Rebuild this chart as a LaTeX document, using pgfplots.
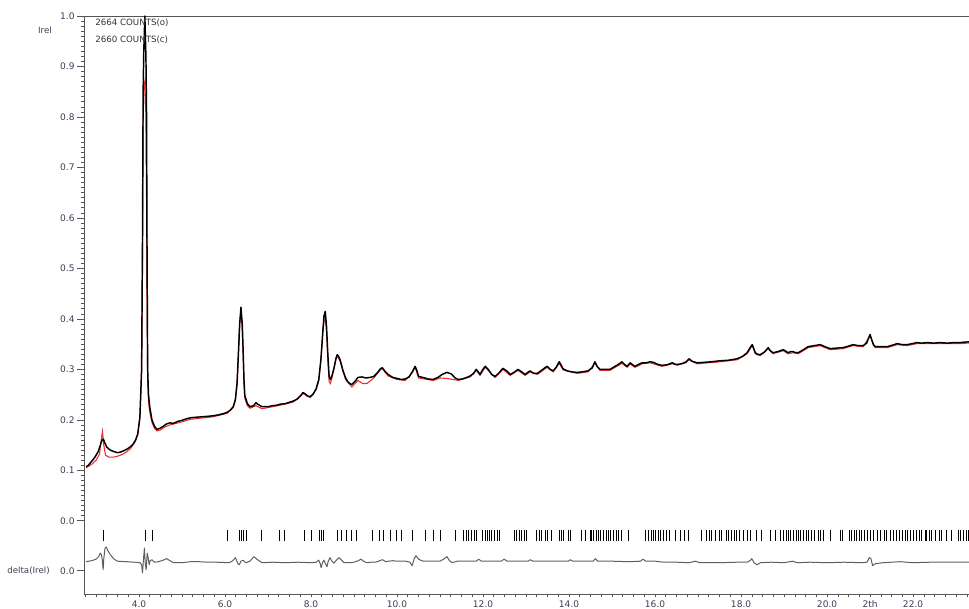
\documentclass[border=0pt]{standalone}
\usepackage{fontspec}
\setmainfont{DejaVu Sans}
\usepackage{pgfplots}
\pgfplotsset{compat=1.18}
\definecolor{txt}{RGB}{60,60,85}
\definecolor{frm}{RGB}{85,85,85}
\definecolor{calc}{RGB}{235,45,45}
\definecolor{dgray}{RGB}{95,95,95}
\begin{document}
\begin{tikzpicture}
\useasboundingbox (0pt,0pt) rectangle (726.75pt,456pt);
\begin{axis}[
  at={(63pt,10.5pt)}, anchor=south west,
  scale only axis, width=668.25pt, height=433.5pt,
  xmin=2.72, xmax=23.44, ymin=-0.145, ymax=1.0,
  axis line style={frm, line width=0.6pt},
  tick pos=left, tick align=outside,
  major tick length=5pt, minor tick length=2.3pt,
  tick style={frm, line width=0.5pt},
  xtick style={/pgfplots/major tick length=2.4pt, /pgfplots/minor tick length=2pt},
  xtick={4,6,...,22},
  minor xtick={2.75,3,...,23.25},
  ytick={0,0.1,...,1.0},
  minor ytick={0,0.01,...,1},
  extra y ticks={-0.099}, extra y tick labels={0.0},
  extra x ticks={21}, extra x tick labels={2th},
  /pgf/number format/.cd, fixed, fixed zerofill, precision=1, assume math mode=true,
  /pgfplots/.cd,
  ticklabel style={font=\fontsize{6.8}{7.5}\selectfont, text=txt},
  xticklabel style={yshift=3pt, inner sep=0pt, text height=0.76em, text depth=0pt},
  yticklabel style={xshift=1.5pt},
  clip=true,
]
% calculated (red)
\addplot[calc, line width=0.8pt] coordinates {
(2.77,0.105)(2.90,0.112)(3.00,0.120)(3.08,0.132)(3.12,0.160)(3.15,0.177)(3.18,0.150)(3.22,0.130)
(3.30,0.126)(3.40,0.126)(3.50,0.128)(3.60,0.131)(3.70,0.136)(3.80,0.143)(3.90,0.155)(3.97,0.172)
(4.02,0.205)(4.06,0.30)(4.08,0.52)(4.095,0.78)(4.11,0.86)(4.135,0.87)(4.16,0.80)(4.175,0.63)
(4.185,0.45)(4.20,0.28)(4.22,0.235)(4.25,0.215)(4.30,0.195)(4.36,0.183)(4.42,0.178)(4.50,0.180)
(4.60,0.186)(4.72,0.190)(5.00,0.196)(5.19,0.201)(5.50,0.204)(5.72,0.206)(6.05,0.213)(6.19,0.224)
(6.24,0.238)(6.28,0.270)(6.31,0.33)(6.34,0.39)(6.37,0.415)(6.40,0.38)(6.42,0.33)(6.44,0.27)
(6.46,0.242)(6.52,0.228)(6.58,0.223)(6.72,0.228)(6.86,0.222)(7.28,0.229)(7.58,0.235)(7.81,0.252)
(7.98,0.244)(8.12,0.260)(8.18,0.278)(8.23,0.320)(8.27,0.37)(8.30,0.395)(8.33,0.400)(8.36,0.375)
(8.39,0.32)(8.42,0.276)(8.45,0.272)(8.49,0.285)(8.58,0.320)(8.61,0.327)(8.68,0.315)(8.80,0.280)
(8.95,0.265)(9.09,0.278)(9.20,0.272)(9.30,0.272)(9.46,0.283)(9.62,0.300)(9.66,0.301)(9.79,0.287)
(10.00,0.280)(10.19,0.278)(10.36,0.294)(10.42,0.304)(10.50,0.283)(10.84,0.278)(11.00,0.283)
(11.16,0.282)(11.30,0.280)(11.42,0.278)(11.70,0.285)(11.84,0.298)(11.93,0.288)(12.05,0.304)
(12.28,0.284)(12.46,0.300)(12.63,0.288)(12.81,0.298)(12.98,0.288)(13.09,0.295)(13.26,0.290)
(13.49,0.304)(13.63,0.295)(13.77,0.312)(13.86,0.299)(14.19,0.292)(14.44,0.295)(14.60,0.312)
(14.72,0.298)(14.95,0.298)(15.23,0.312)(15.35,0.304)(15.42,0.311)(15.53,0.304)(15.70,0.311)
(15.88,0.313)(16.16,0.306)(16.40,0.311)(16.53,0.308)(16.79,0.319)(16.98,0.311)(17.51,0.315)
(17.91,0.319)(18.14,0.331)(18.26,0.347)(18.33,0.331)(18.44,0.327)(18.63,0.341)(18.74,0.331)
(18.98,0.337)(19.09,0.331)(19.21,0.333)(19.33,0.331)(19.56,0.343)(19.84,0.347)(20.07,0.339)
(20.37,0.341)(20.60,0.347)(20.84,0.345)(21.00,0.366)(21.12,0.343)(21.40,0.343)(21.63,0.349)
(21.86,0.347)(22.09,0.351)(22.33,0.351)(22.63,0.351)(23.09,0.351)(23.44,0.353)
};
% observed (black)
\addplot[black, line width=1.1pt, line join=round] coordinates {
(2.77,0.107)(2.82,0.110)(2.86,0.114)(2.92,0.120)(2.98,0.127)(3.05,0.137)(3.10,0.150)(3.14,0.160)
(3.17,0.162)(3.20,0.155)(3.25,0.146)(3.33,0.140)(3.42,0.137)(3.50,0.135)(3.56,0.136)(3.65,0.139)
(3.72,0.142)(3.79,0.146)(3.86,0.152)(3.92,0.160)(3.97,0.172)(4.02,0.205)(4.06,0.30)(4.08,0.55)
(4.095,0.85)(4.11,0.93)(4.135,1.00)(4.16,0.92)(4.175,0.80)(4.185,0.55)(4.20,0.30)(4.22,0.25)
(4.25,0.225)(4.30,0.200)(4.36,0.187)(4.42,0.181)(4.48,0.183)(4.56,0.187)(4.64,0.192)(4.72,0.194)
(4.80,0.193)(4.90,0.197)(5.00,0.199)(5.10,0.202)(5.19,0.204)(5.30,0.205)(5.45,0.206)(5.60,0.207)
(5.72,0.208)(5.85,0.210)(5.95,0.212)(6.05,0.215)(6.12,0.219)(6.19,0.226)(6.24,0.240)(6.28,0.274)
(6.31,0.33)(6.34,0.39)(6.37,0.423)(6.40,0.39)(6.42,0.34)(6.44,0.28)(6.46,0.248)(6.52,0.232)
(6.58,0.226)(6.66,0.228)(6.72,0.234)(6.76,0.231)(6.86,0.226)(7.00,0.226)(7.10,0.228)(7.20,0.229)
(7.28,0.231)(7.40,0.232)(7.50,0.235)(7.58,0.237)(7.68,0.241)(7.76,0.248)(7.81,0.254)(7.86,0.252)
(7.92,0.247)(7.98,0.246)(8.05,0.251)(8.12,0.262)(8.18,0.280)(8.23,0.320)(8.27,0.37)(8.30,0.405)
(8.33,0.415)(8.36,0.385)(8.39,0.33)(8.42,0.286)(8.45,0.280)(8.49,0.288)(8.54,0.305)(8.58,0.322)
(8.61,0.329)(8.64,0.326)(8.68,0.318)(8.74,0.298)(8.80,0.284)(8.85,0.276)(8.90,0.272)(8.95,0.270)
(9.02,0.276)(9.09,0.284)(9.18,0.285)(9.28,0.283)(9.37,0.284)(9.46,0.286)(9.55,0.294)(9.62,0.302)
(9.66,0.303)(9.72,0.296)(9.79,0.290)(9.90,0.284)(10.00,0.282)(10.10,0.280)(10.19,0.281)(10.28,0.285)
(10.36,0.296)(10.42,0.306)(10.46,0.298)(10.50,0.286)(10.60,0.284)(10.72,0.281)(10.84,0.280)
(10.95,0.284)(11.05,0.290)(11.16,0.294)(11.26,0.291)(11.35,0.283)(11.42,0.280)(11.52,0.281)
(11.62,0.284)(11.70,0.287)(11.78,0.292)(11.84,0.300)(11.88,0.296)(11.93,0.290)(11.98,0.298)
(12.05,0.306)(12.12,0.300)(12.20,0.290)(12.28,0.286)(12.36,0.292)(12.46,0.302)(12.55,0.297)
(12.63,0.290)(12.72,0.294)(12.81,0.300)(12.90,0.295)(12.98,0.290)(13.04,0.294)(13.09,0.297)
(13.18,0.292)(13.26,0.292)(13.36,0.298)(13.45,0.304)(13.49,0.306)(13.56,0.300)(13.63,0.297)
(13.70,0.304)(13.77,0.315)(13.82,0.308)(13.86,0.301)(13.96,0.297)(14.06,0.295)(14.19,0.294)
(14.30,0.295)(14.44,0.297)(14.54,0.303)(14.60,0.315)(14.66,0.305)(14.72,0.300)(14.82,0.300)
(14.95,0.300)(15.05,0.305)(15.15,0.310)(15.23,0.315)(15.30,0.309)(15.35,0.306)(15.42,0.313)
(15.48,0.309)(15.53,0.306)(15.62,0.310)(15.70,0.313)(15.80,0.313)(15.88,0.315)(15.96,0.314)
(16.06,0.310)(16.16,0.308)(16.28,0.309)(16.40,0.313)(16.47,0.310)(16.53,0.310)(16.62,0.311)
(16.72,0.314)(16.79,0.321)(16.86,0.316)(16.98,0.313)(17.15,0.314)(17.30,0.315)(17.51,0.317)
(17.70,0.318)(17.91,0.321)(18.04,0.326)(18.14,0.333)(18.21,0.343)(18.26,0.349)(18.30,0.340)
(18.33,0.333)(18.38,0.330)(18.44,0.329)(18.54,0.334)(18.63,0.343)(18.68,0.337)(18.74,0.333)
(18.85,0.335)(18.98,0.339)(19.04,0.336)(19.09,0.333)(19.15,0.335)(19.21,0.335)(19.27,0.333)
(19.33,0.333)(19.45,0.339)(19.56,0.345)(19.70,0.347)(19.84,0.349)(19.95,0.345)(20.07,0.341)
(20.20,0.342)(20.37,0.343)(20.50,0.346)(20.60,0.349)(20.72,0.347)(20.84,0.347)(20.92,0.352)
(20.97,0.363)(21.00,0.369)(21.04,0.358)(21.08,0.348)(21.12,0.345)(21.25,0.345)(21.40,0.345)
(21.52,0.348)(21.63,0.351)(21.75,0.349)(21.86,0.349)(21.98,0.351)(22.09,0.353)(22.20,0.352)
(22.33,0.353)(22.48,0.352)(22.63,0.353)(22.80,0.352)(22.95,0.353)(23.09,0.353)(23.20,0.354)
(23.44,0.355)
};
% reflection positions
\addplot[draw=none, mark=none, error bars/.cd, y dir=both, y fixed=0.011, error mark=none,
  error bar style={draw=black, line width=0.6pt}] coordinates {
(3.162,-0.029)(4.139,-0.029)(4.302,-0.029)(6.046,-0.029)(6.325,-0.029)(6.371,-0.029)(6.418,-0.029)
(6.488,-0.029)(6.836,-0.029)(7.255,-0.029)(7.371,-0.029)(7.836,-0.029)(8.000,-0.029)(8.185,-0.029)
(8.232,-0.029)(8.278,-0.029)(8.604,-0.029)(8.697,-0.029)(8.813,-0.029)(8.930,-0.029)(9.046,-0.029)
(9.418,-0.029)(9.600,-0.029)(9.680,-0.029)(9.837,-0.029)(9.976,-0.029)(10.109,-0.029)(10.365,-0.029)
(10.651,-0.029)(10.844,-0.029)(11.016,-0.029)(11.348,-0.029)(11.541,-0.029)(11.604,-0.029)
(11.658,-0.029)(11.737,-0.029)(11.790,-0.029)(11.853,-0.029)(11.993,-0.029)(12.046,-0.029)
(12.100,-0.029)(12.146,-0.029)(12.202,-0.029)(12.255,-0.029)(12.332,-0.029)(12.379,-0.029)
(12.720,-0.029)(12.783,-0.029)(12.844,-0.029)(12.900,-0.029)(12.960,-0.029)(13.016,-0.029)
(13.248,-0.029)(13.309,-0.029)(13.365,-0.029)(13.441,-0.029)(13.504,-0.029)(13.597,-0.029)
(13.774,-0.029)(13.830,-0.029)(13.867,-0.029)(13.983,-0.029)(14.023,-0.029)(14.295,-0.029)
(14.372,-0.029)(14.488,-0.029)(14.527,-0.029)(14.565,-0.029)(14.627,-0.029)(14.681,-0.029)
(14.737,-0.029)(14.797,-0.029)(14.860,-0.029)(14.914,-0.029)(14.969,-0.029)(15.030,-0.029)
(15.093,-0.029)(15.146,-0.029)(15.225,-0.029)(15.379,-0.029)(15.767,-0.029)(15.844,-0.029)
(15.907,-0.029)(15.960,-0.029)(16.016,-0.029)(16.076,-0.029)(16.132,-0.029)(16.193,-0.029)
(16.272,-0.029)(16.332,-0.029)(16.465,-0.029)(16.597,-0.029)(16.674,-0.029)(16.774,-0.029)
(17.086,-0.029)(17.202,-0.029)(17.262,-0.029)(17.318,-0.029)(17.395,-0.029)(17.495,-0.029)
(17.551,-0.029)(17.651,-0.029)(17.704,-0.029)(17.783,-0.029)(17.837,-0.029)(17.900,-0.029)
(17.960,-0.029)(18.053,-0.029)(18.146,-0.029)(18.209,-0.029)(18.365,-0.029)(18.479,-0.029)
(18.674,-0.029)(18.790,-0.029)(18.923,-0.029)(18.983,-0.029)(19.046,-0.029)(19.100,-0.029)
(19.155,-0.029)(19.216,-0.029)(19.279,-0.029)(19.332,-0.029)(19.388,-0.029)(19.448,-0.029)
(19.527,-0.029)(19.565,-0.029)(19.644,-0.029)(19.697,-0.029)(19.797,-0.029)(19.853,-0.029)
(19.914,-0.029)(20.069,-0.029)(20.302,-0.029)(20.365,-0.029)(20.518,-0.029)(20.574,-0.029)
(20.627,-0.029)(20.690,-0.029)(20.751,-0.029)(20.807,-0.029)(20.860,-0.029)(20.937,-0.029)
(21.000,-0.029)(21.076,-0.029)(21.169,-0.029)(21.248,-0.029)(21.325,-0.029)(21.388,-0.029)
(21.481,-0.029)(21.541,-0.029)(21.620,-0.029)(21.681,-0.029)(21.760,-0.029)(21.814,-0.029)
(21.867,-0.029)(21.930,-0.029)(22.007,-0.029)(22.069,-0.029)(22.146,-0.029)(22.202,-0.029)
(22.279,-0.029)(22.318,-0.029)(22.379,-0.029)(22.434,-0.029)(22.511,-0.029)(22.611,-0.029)
(22.667,-0.029)(22.783,-0.029)(22.900,-0.029)(23.053,-0.029)(23.109,-0.029)(23.169,-0.029)
(23.232,-0.029)(23.286,-0.029)
};
% difference curve
\addplot[dgray, line width=0.75pt, line join=round] coordinates {
(2.77,-0.081)(2.90,-0.079)(3.00,-0.076)(3.06,-0.071)(3.10,-0.064)(3.13,-0.068)(3.15,-0.082)
(3.165,-0.097)(3.18,-0.075)(3.21,-0.054)(3.24,-0.052)(3.28,-0.060)(3.34,-0.068)(3.42,-0.076)
(3.50,-0.080)(3.70,-0.081)(3.90,-0.082)(4.02,-0.083)(4.06,-0.087)(4.08,-0.103)(4.10,-0.080)
(4.125,-0.054)(4.145,-0.085)(4.165,-0.097)(4.19,-0.064)(4.21,-0.072)(4.235,-0.087)(4.26,-0.079)
(4.30,-0.077)(4.36,-0.082)(4.45,-0.081)(4.56,-0.078)(4.64,-0.075)(4.72,-0.079)(4.80,-0.083)
(5.00,-0.083)(5.20,-0.081)(5.40,-0.081)(5.60,-0.082)(5.80,-0.082)(6.10,-0.083)(6.18,-0.079)
(6.24,-0.073)(6.30,-0.085)(6.33,-0.087)(6.37,-0.080)(6.42,-0.078)(6.48,-0.083)(6.58,-0.080)
(6.67,-0.071)(6.74,-0.076)(6.86,-0.083)(7.10,-0.082)(7.40,-0.083)(7.70,-0.082)(8.00,-0.083)
(8.12,-0.082)(8.18,-0.078)(8.21,-0.084)(8.235,-0.093)(8.27,-0.082)(8.30,-0.078)(8.34,-0.086)
(8.37,-0.091)(8.40,-0.080)(8.44,-0.073)(8.48,-0.079)(8.53,-0.084)(8.59,-0.078)(8.65,-0.073)
(8.71,-0.078)(8.77,-0.083)(8.90,-0.083)(9.00,-0.082)(9.10,-0.079)(9.16,-0.076)(9.22,-0.080)
(9.30,-0.083)(9.40,-0.082)(9.50,-0.082)(9.60,-0.079)(9.66,-0.077)(9.74,-0.081)(9.80,-0.080)
(9.90,-0.079)(10.00,-0.080)(10.20,-0.080)(10.30,-0.082)(10.35,-0.089)(10.40,-0.075)(10.44,-0.069)
(10.50,-0.076)(10.60,-0.080)(10.80,-0.080)(11.00,-0.080)(11.10,-0.075)(11.16,-0.071)(11.22,-0.079)
(11.28,-0.083)(11.40,-0.080)(11.60,-0.080)(11.84,-0.080)(11.90,-0.076)(11.96,-0.080)(12.20,-0.080)
(12.42,-0.080)(12.49,-0.076)(12.56,-0.080)(12.80,-0.080)(13.05,-0.080)(13.10,-0.077)(13.16,-0.080)
(13.50,-0.080)(13.98,-0.080)(14.03,-0.077)(14.08,-0.080)(14.40,-0.080)(14.56,-0.080)(14.61,-0.075)
(14.67,-0.080)(15.00,-0.080)(15.40,-0.081)(15.66,-0.080)(15.72,-0.076)(15.78,-0.080)(16.00,-0.080)
(16.20,-0.082)(16.50,-0.082)(16.80,-0.083)(16.93,-0.080)(17.05,-0.083)(17.50,-0.083)(17.90,-0.082)
(18.15,-0.082)(18.22,-0.078)(18.25,-0.075)(18.30,-0.083)(18.37,-0.087)(18.45,-0.083)(18.70,-0.082)
(19.00,-0.083)(19.20,-0.080)(19.30,-0.083)(19.60,-0.082)(20.00,-0.083)(20.40,-0.082)(20.80,-0.083)
(20.93,-0.082)(20.98,-0.073)(21.02,-0.075)(21.06,-0.089)(21.12,-0.085)(21.30,-0.083)(21.70,-0.081)
(22.00,-0.083)(22.40,-0.082)(22.80,-0.082)(23.44,-0.082)
};
\end{axis}
\begin{scope}[every node/.style={font=\fontsize{6.5}{7.5}\selectfont, text=txt, inner sep=0pt}]
\node[anchor=center] at (33.75pt,433.5pt) {Irel};
\node[anchor=east] at (37.5pt,27.75pt) {delta(Irel)};
\node[anchor=west, text=black!80] at (71.25pt,438.75pt) {2664 COUNTS(o)};
\node[anchor=west, text=black!80] at (71.25pt,426pt) {2660 COUNTS(c)};
\end{scope}
\end{tikzpicture}
\end{document}
